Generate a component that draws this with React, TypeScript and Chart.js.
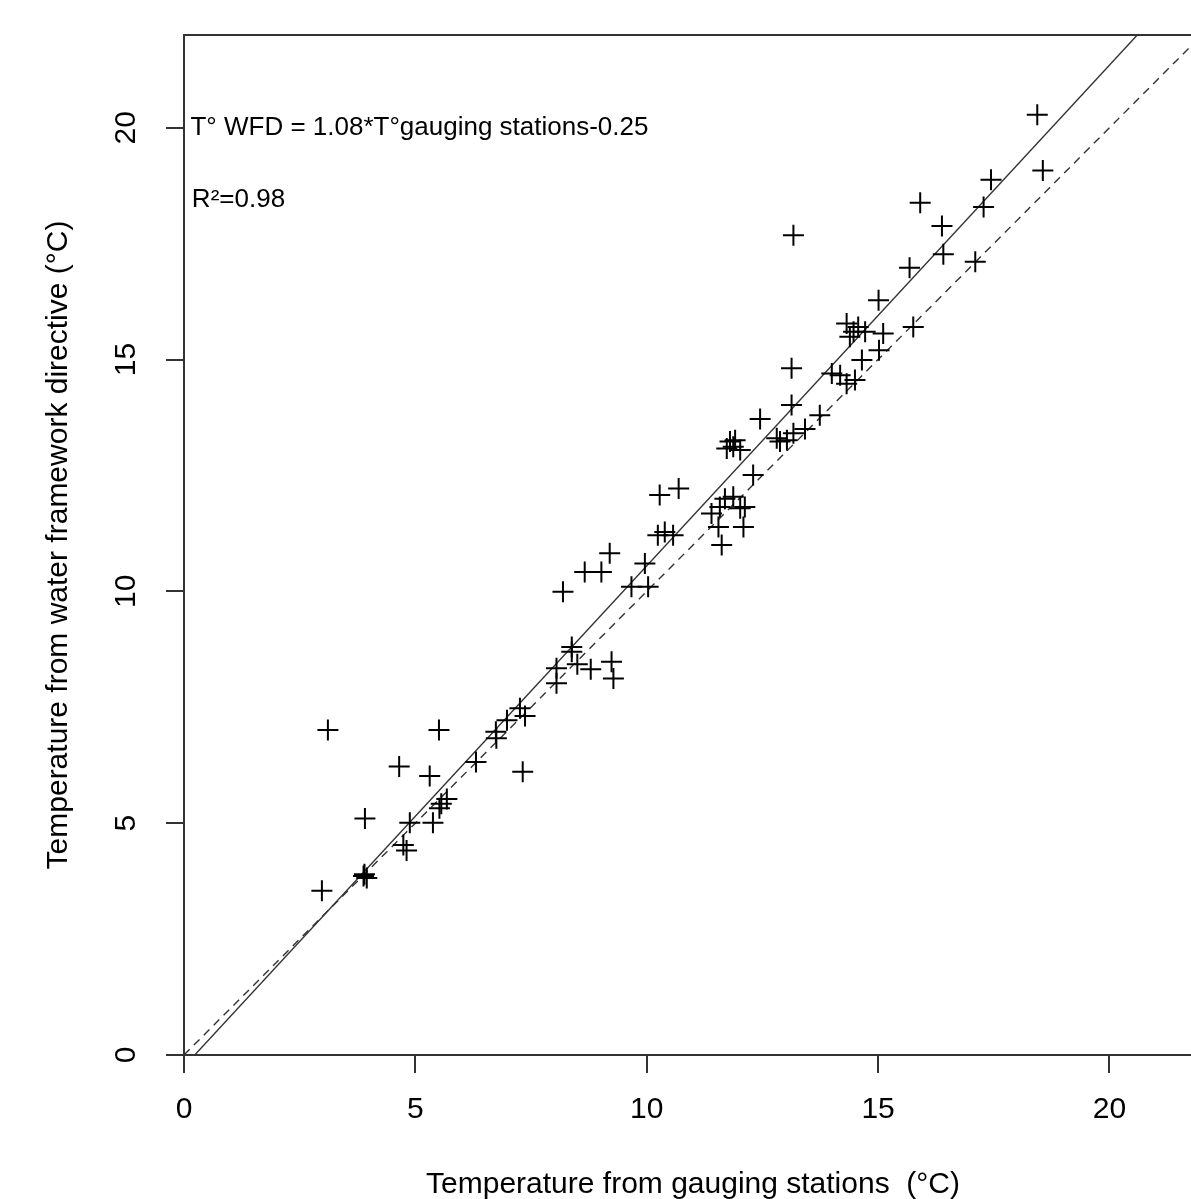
import React, { useEffect, useRef } from "react";
import { Chart, registerables } from "chart.js";

Chart.register(...registerables);

// Temperature from gauging stations (°C)
const gaugingT = [
  2.98, 3.11, 3.91, 3.9, 3.95, 3.88, 4.65, 4.74, 4.81, 4.88,
  5.31, 5.38, 5.51, 5.52, 5.56, 5.68, 6.31, 6.74, 6.75, 6.98,
  7.26, 7.37, 7.32, 8.05, 8.05, 8.19, 8.38, 8.38, 8.5, 8.79,
  8.66, 9.02, 9.2, 9.24, 9.28, 9.67, 9.96, 10.03, 10.24, 10.39,
  10.57, 10.28, 10.69, 11.4, 11.55, 11.62, 11.58, 11.69, 11.87, 12.02,
  12.12, 12.09, 11.73, 11.8, 11.91, 11.87, 12.02, 12.3, 12.45, 12.81,
  12.88, 13.03, 13.17, 13.42, 13.74, 13.13, 13.13, 13.17, 14.0, 14.18,
  14.32, 14.5, 14.32, 14.47, 14.57, 14.72, 14.39, 14.65, 15.02, 15.11,
  15.01, 15.76, 15.68, 15.91, 16.38, 16.41, 17.1, 17.28, 17.44, 18.44,
  18.56,
];

// Temperature from water framework directive (°C)
const wfdT = [
  3.54, 7.01, 5.1, 3.9, 3.82, 3.86, 6.22, 4.53, 4.41, 5.01,
  6.02, 5.01, 7.01, 5.32, 5.42, 5.52, 6.32, 6.97, 6.83, 7.22,
  7.48, 7.31, 6.11, 8.34, 8.02, 9.99, 8.8, 8.7, 8.43, 8.32,
  10.42, 10.42, 10.82, 8.48, 8.12, 10.1, 10.6, 10.1, 11.21, 11.28,
  11.21, 12.08, 12.22, 11.68, 11.39, 11.0, 11.82, 12.0, 12.04, 11.79,
  11.82, 11.39, 13.08, 13.23, 13.26, 13.12, 13.05, 12.51, 13.72, 13.3,
  13.23, 13.26, 13.41, 13.5, 13.8, 14.02, 14.81, 17.68, 14.7, 14.66,
  14.48, 14.56, 15.78, 15.6, 15.7, 15.6, 15.49, 14.99, 15.2, 15.56,
  16.28, 15.7, 16.98, 18.38, 17.88, 17.27, 17.11, 18.29, 18.88, 20.28,
  19.08,
];

const xTicks = [0, 5, 10, 15, 20];
const yTicks = [0, 5, 10, 15, 20];
const axisRange = [0, 22];

// regression: T° WFD = 1.08 * T° gauging stations - 0.25
const fitCoef = [1.08, -0.25];
const identityCoef = [1, 0];

const equationText = "T° WFD = 1.08*T°gauging stations-0.25";
const r2Text = "R²=0.98";
const xTitle = "Temperature from gauging stations  (°C)";
const yTitle = "Temperature from water framework directive (°C)";

const FONT = "'Liberation Sans', Arial, Helvetica, sans-serif";

export default function App() {
  const canvasRef = useRef<HTMLCanvasElement | null>(null);

  useEffect(() => {
    const canvas = canvasRef.current;
    if (!canvas) return;

    const points = gaugingT.map((x, i) => ({ x, y: wfdT[i] }));
    const lineOf = (c: number[]) => [
      { x: axisRange[0], y: c[0] * axisRange[0] + c[1] },
      { x: axisRange[1], y: c[0] * axisRange[1] + c[1] },
    ];

    const textPlugin = {
      id: "rStyle",
      afterDraw(chart: any) {
        const { ctx, chartArea } = chart;
        const xs = chart.scales.x;
        const ys = chart.scales.y;
        ctx.save();
        // box
        ctx.strokeStyle = "#333";
        ctx.lineWidth = 2;
        ctx.strokeRect(
          chartArea.left,
          chartArea.top,
          chartArea.right - chartArea.left,
          chartArea.bottom - chartArea.top
        );
        ctx.fillStyle = "#000";
        // x tick labels
        ctx.font = `30px ${FONT}`;
        ctx.textAlign = "center";
        ctx.textBaseline = "middle";
        xTicks.forEach((v) => {
          ctx.fillText(String(v), xs.getPixelForValue(v), chartArea.bottom + 55);
        });
        // y tick labels (rotated)
        yTicks.forEach((v) => {
          ctx.save();
          ctx.translate(chartArea.left - 57, ys.getPixelForValue(v));
          ctx.rotate(-Math.PI / 2);
          ctx.fillText(String(v), 0, 0);
          ctx.restore();
        });
        // axis titles
        ctx.font = `30px ${FONT}`;
        ctx.fillText(xTitle, (chartArea.left + chartArea.right) / 2, chartArea.bottom + 130);
        ctx.save();
        ctx.translate(chartArea.left - 125, (chartArea.top + chartArea.bottom) / 2);
        ctx.rotate(-Math.PI / 2);
        ctx.fillText(yTitle, 0, 0);
        ctx.restore();
        // annotations
        ctx.font = `26px ${FONT}`;
        ctx.textAlign = "left";
        ctx.fillText(equationText, xs.getPixelForValue(0.14), ys.getPixelForValue(20));
        ctx.fillText(r2Text, xs.getPixelForValue(0.17), ys.getPixelForValue(18.45));
        ctx.restore();
      },
    };

    const chart = new Chart(canvas, {
      type: "scatter",
      data: {
        datasets: [
          {
            label: "stations",
            data: points,
            pointStyle: "cross",
            pointRadius: 10.5,
            pointBorderWidth: 2,
            borderColor: "#000",
            backgroundColor: "#000",
            showLine: false,
          },
          {
            label: "fit",
            type: "line",
            data: lineOf(fitCoef),
            borderColor: "#333",
            borderWidth: 1.4,
            pointRadius: 0,
            fill: false,
          },
          {
            label: "1:1",
            type: "line",
            data: lineOf(identityCoef),
            borderColor: "#333",
            borderWidth: 1.4,
            borderDash: [8, 6],
            pointRadius: 0,
            fill: false,
          },
        ],
      } as any,
      options: {
        animation: false,
        responsive: false,
        events: [],
        layout: { padding: { top: 35, right: 18, left: 0, bottom: 0 } },
        plugins: {
          legend: { display: false },
          tooltip: { enabled: false },
        },
        scales: {
          x: {
            type: "linear",
            min: axisRange[0],
            max: axisRange[1],
            afterFit: (s: any) => {
              s.height = 144;
            },
            afterBuildTicks: (s: any) => {
              s.ticks = xTicks.map((v) => ({ value: v }));
            },
            ticks: { color: "rgba(0,0,0,0)", includeBounds: false, font: { size: 30 } },
            grid: {
              drawOnChartArea: false,
              drawTicks: true,
              tickLength: 18,
              color: "#333",
              lineWidth: 2,
            },
            border: { display: true, color: "#333", width: 2 },
          },
          y: {
            type: "linear",
            min: axisRange[0],
            max: axisRange[1],
            afterFit: (s: any) => {
              s.width = 184;
            },
            afterBuildTicks: (s: any) => {
              s.ticks = yTicks.map((v) => ({ value: v }));
            },
            ticks: { color: "rgba(0,0,0,0)", includeBounds: false, font: { size: 30 } },
            grid: {
              drawOnChartArea: false,
              drawTicks: true,
              tickLength: 18,
              color: "#333",
              lineWidth: 2,
            },
            border: { display: true, color: "#333", width: 2 },
          },
        },
      } as any,
      plugins: [textPlugin],
    });

    return () => {
      chart.destroy();
    };
  }, []);

  return (
    <div
      style={{
        position: "fixed",
        left: 0,
        top: 0,
        width: 1191,
        height: 1199,
        overflow: "hidden",
        background: "#fff",
      }}
    >
      <canvas
        ref={canvasRef}
        width={1220}
        height={1199}
        style={{ width: 1220, height: 1199, display: "block" }}
      />
    </div>
  );
}
